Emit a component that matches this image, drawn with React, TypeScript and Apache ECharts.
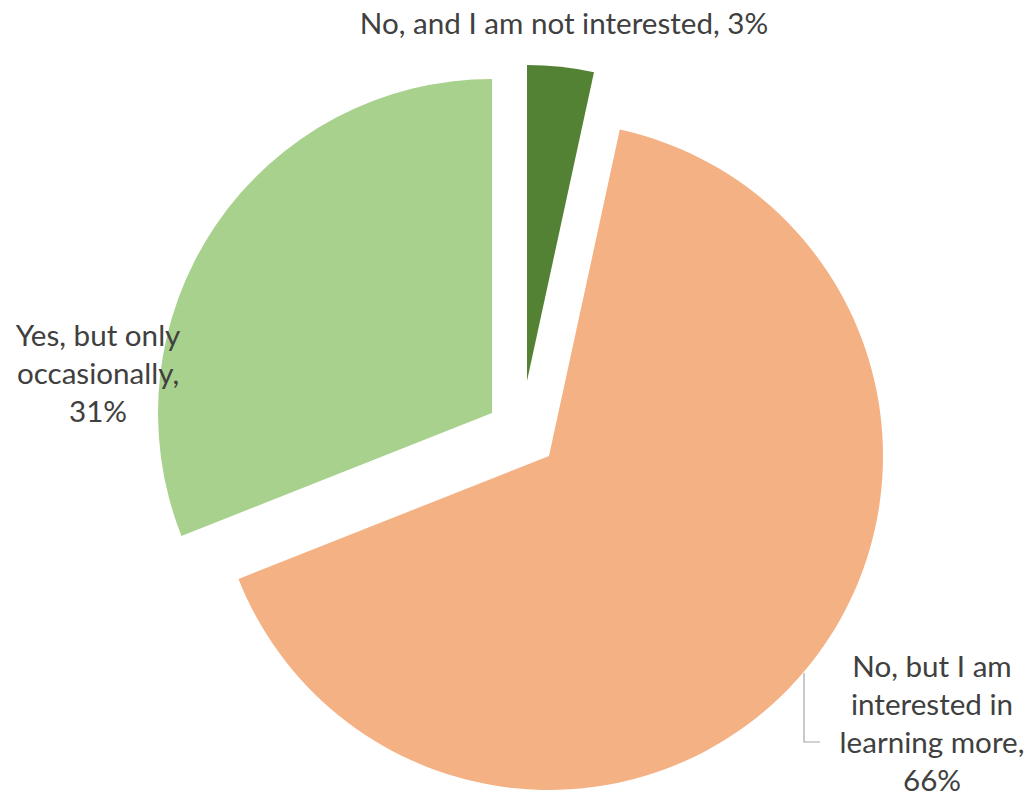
import React, { useEffect, useRef } from "react";
import * as echarts from "echarts";

// Data
const categories = [
  "No, and I am not interested",
  "No, but I am interested in learning more",
  "Yes, but only occasionally",
];
const wrappedLabels = [
  "No, and I am not interested, ",
  "No, but I am\ninterested in\nlearning more,\n",
  "Yes, but only\noccasionally,\n",
];
const values = [3.4, 65.6, 31.0];
const colors = ["#548235", "#F4B183", "#A9D18E"];

// Layout (exploded slices: each slice drawn by its own pie series)
const sliceCenters: [number, number][] = [
  [527, 381],
  [549, 456],
  [492, 413],
];
const sliceRadii = [316, 334, 334];
const labelPos: [number, number][] = [
  [564, 22],
  [932, 722],
  [98, 372],
];

export default function App() {
  const ref = useRef<HTMLDivElement>(null);
  useEffect(() => {
    if (!ref.current) return;
    const chart = echarts.init(ref.current, undefined, { renderer: "svg" });
    const total = values.reduce((a, b) => a + b, 0);
    const series = values.map((_, si) => ({
      type: "pie",
      silent: true,
      center: sliceCenters[si],
      radius: sliceRadii[si],
      startAngle: 90,
      clockwise: true,
      avoidLabelOverlap: false,
      emphasis: { disabled: true },
      labelLine: { show: false },
      labelLayout: () => ({
        x: labelPos[si][0],
        y: labelPos[si][1],
        align: "center",
        verticalAlign: "middle",
      }),
      data: values.map((v, di) => ({
        name: categories[di],
        value: v,
        itemStyle: {
          color: di === si ? colors[di] : "rgba(0,0,0,0)",
          borderWidth: 0,
        },
        label: {
          show: di === si,
          position: "outside",
          formatter: () =>
            wrappedLabels[di] + Math.round((v / total) * 100) + "%",
          fontFamily: "Lato",
          fontSize: 29.6,
          lineHeight: 38,
          color: "#404040",
          align: "center",
        },
      })),
    }));
    chart.setOption({
      animation: false,
      backgroundColor: "#ffffff",
      series,
      graphic: [
        {
          type: "polyline",
          shape: {
            points: [
              [804, 673],
              [804, 742],
              [820, 742],
            ],
          },
          style: { stroke: "#A6A6A6", lineWidth: 1.2, fill: null },
          z: 10,
        },
      ],
    });
    return () => chart.dispose();
  }, []);
  return (
    <div
      ref={ref}
      style={{ position: "absolute", left: 0, top: 0, width: 1031, height: 793 }}
    />
  );
}
